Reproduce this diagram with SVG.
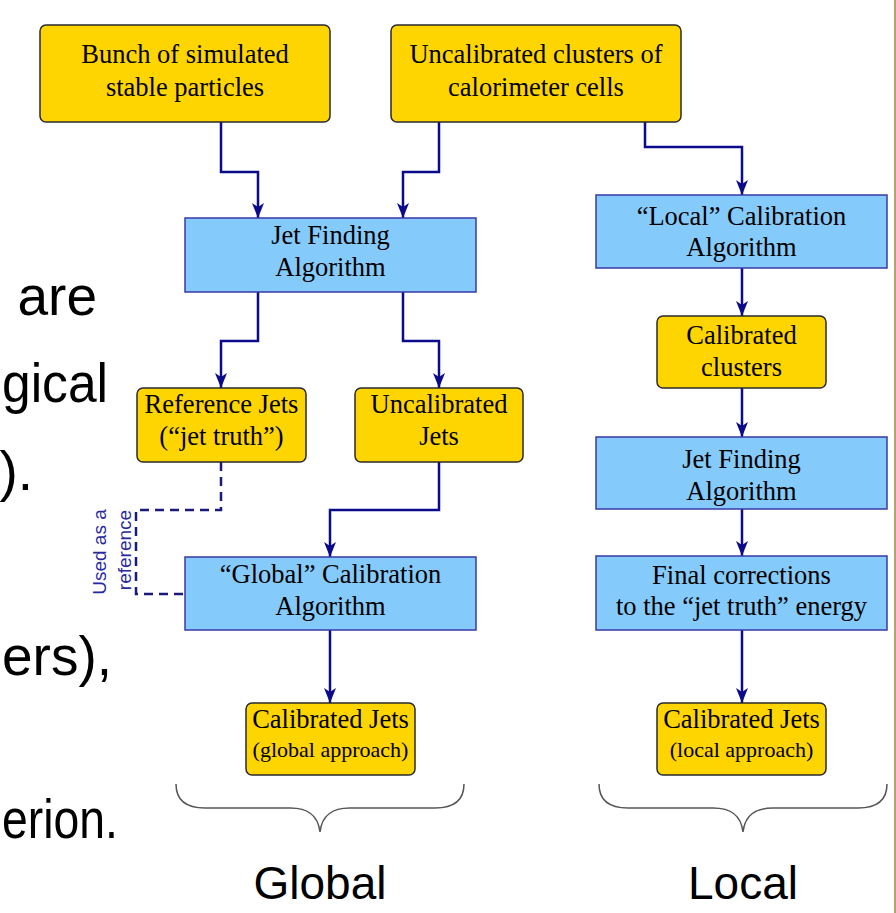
<svg xmlns="http://www.w3.org/2000/svg" width="896" height="913" viewBox="0 0 896 913">
<defs>
<style>
.yb{fill:#FFD500;stroke:#2a2a2a;stroke-width:1.5}
.bb{fill:#84CBFB;stroke:#3a3aa8;stroke-width:1.5}
.t{font-family:"Liberation Serif","Times New Roman",serif;font-size:26.5px;fill:#000;text-anchor:middle}
.ts{font-family:"Liberation Serif","Times New Roman",serif;font-size:22px;fill:#000;text-anchor:middle}
.c{fill:none;stroke:#0a0a8a;stroke-width:2.5;marker-end:url(#ah)}
.d{fill:none;stroke:#1a1a7a;stroke-width:2.5;stroke-dasharray:9 6}
.br{fill:none;stroke:#555;stroke-width:1.5}
.slide{font-family:"Liberation Sans",Arial,sans-serif;font-size:55px;fill:#000}
.lab{font-family:"Liberation Sans",Arial,sans-serif;font-size:46px;fill:#000;text-anchor:middle}
.ref{font-family:"Liberation Sans",Arial,sans-serif;font-size:19px;fill:#2828a0;text-anchor:middle}
</style>
<marker id="ah" markerUnits="userSpaceOnUse" markerWidth="15" markerHeight="12" refX="15" refY="6" orient="auto">
<path d="M0,0 L15,6 L0,12 L4,6 Z" fill="#0a0a8a"/>
</marker>
</defs>
<rect width="896" height="913" fill="#fff"/>
<line x1="895" y1="0" x2="895" y2="913" stroke="#b8a070" stroke-width="2"/>

<g id="slide-text">
<text class="slide" x="97" y="315" text-anchor="end">are</text>
<text class="slide" x="2" y="402" textLength="106" lengthAdjust="spacingAndGlyphs">gical</text>
<text class="slide" x="33" y="490" text-anchor="end">).</text>
<text class="slide" x="112" y="675" text-anchor="end">ers),</text>
<text class="slide" x="2" y="838" textLength="116" lengthAdjust="spacingAndGlyphs">erion.</text>
</g>

<g id="connectors">
<path class="c" d="M221,122 V172 H258 V218"/>
<path class="c" d="M439,122 V172 H403 V218"/>
<path class="c" d="M645,122 V147 H742 V195"/>
<path class="c" d="M258,292 V341 H221 V388"/>
<path class="c" d="M403,292 V341 H439 V388"/>
<path class="d" d="M221,462 V510 H136 V594 H185"/>
<path class="c" d="M439,462 V510 H330 V557"/>
<path class="c" d="M330,630 V703"/>
<path class="c" d="M742,268 V316"/>
<path class="c" d="M742,388 V437"/>
<path class="c" d="M742,509 V556"/>
<path class="c" d="M742,630 V703"/>
</g>

<g id="used-as-reference">
<text class="ref" transform="translate(106,552) rotate(-90)">Used as a</text>
<text class="ref" transform="translate(131,550) rotate(-90)">reference</text>
</g>

<g id="n-particles">
<rect class="yb" x="40" y="25" width="290" height="97" rx="6"/>
<text class="t" x="185" y="63">Bunch of simulated</text>
<text class="t" x="185" y="96">stable particles</text>
</g>
<g id="n-clusters">
<rect class="yb" x="391" y="25" width="290" height="97" rx="6"/>
<text class="t" x="536" y="63">Uncalibrated clusters of</text>
<text class="t" x="536" y="96">calorimeter cells</text>
</g>
<g id="n-jetfinding-global">
<rect class="bb" x="185" y="218" width="291" height="74"/>
<text class="t" x="330.5" y="244">Jet Finding</text>
<text class="t" x="330.5" y="276">Algorithm</text>
</g>
<g id="n-local-calib">
<rect class="bb" x="596" y="195" width="291" height="73"/>
<text class="t" x="741.5" y="225">“Local” Calibration</text>
<text class="t" x="741.5" y="256">Algorithm</text>
</g>
<g id="n-reference-jets">
<rect class="yb" x="137" y="388" width="169" height="74" rx="6"/>
<text class="t" x="221.5" y="413">Reference Jets</text>
<text class="t" x="221.5" y="445">(“jet truth”)</text>
</g>
<g id="n-uncalibrated-jets">
<rect class="yb" x="355" y="388" width="168" height="74" rx="6"/>
<text class="t" x="439" y="413">Uncalibrated</text>
<text class="t" x="439" y="445">Jets</text>
</g>
<g id="n-global-calib">
<rect class="bb" x="185" y="557" width="291" height="73"/>
<text class="t" x="330.5" y="583">“Global” Calibration</text>
<text class="t" x="330.5" y="615">Algorithm</text>
</g>
<g id="n-calibrated-jets-global">
<rect class="yb" x="246" y="703" width="169" height="72" rx="6"/>
<text class="t" x="330.5" y="728">Calibrated Jets</text>
<text class="ts" x="330.5" y="757">(global approach)</text>
</g>
<g id="n-calibrated-clusters">
<rect class="yb" x="657" y="316" width="169" height="72" rx="6"/>
<text class="t" x="741.5" y="344">Calibrated</text>
<text class="t" x="741.5" y="376">clusters</text>
</g>
<g id="n-jetfinding-local">
<rect class="bb" x="596" y="437" width="291" height="72"/>
<text class="t" x="741.5" y="468">Jet Finding</text>
<text class="t" x="741.5" y="500">Algorithm</text>
</g>
<g id="n-final-corrections">
<rect class="bb" x="596" y="556" width="291" height="74"/>
<text class="t" x="741.5" y="584">Final corrections</text>
<text class="t" x="741.5" y="615">to the “jet truth” energy</text>
</g>
<g id="n-calibrated-jets-local">
<rect class="yb" x="657" y="703" width="169" height="72" rx="6"/>
<text class="t" x="741.5" y="728">Calibrated Jets</text>
<text class="ts" x="741.5" y="757">(local approach)</text>
</g>

<g id="brace-global">
<path class="br" d="M176,784 C176,800 186,808 205,808 L290,808 C308,808 318,815 320,832 C322,815 332,808 350,808 L435,808 C454,808 464,800 464,784"/>
<text class="lab" x="320" y="899">Global</text>
</g>
<g id="brace-local">
<path class="br" d="M599,784 C599,800 609,808 628,808 L713,808 C731,808 741,815 743,832 C745,815 755,808 773,808 L858,808 C877,808 887,800 887,784"/>
<text class="lab" x="743" y="899">Local</text>
</g>
</svg>
